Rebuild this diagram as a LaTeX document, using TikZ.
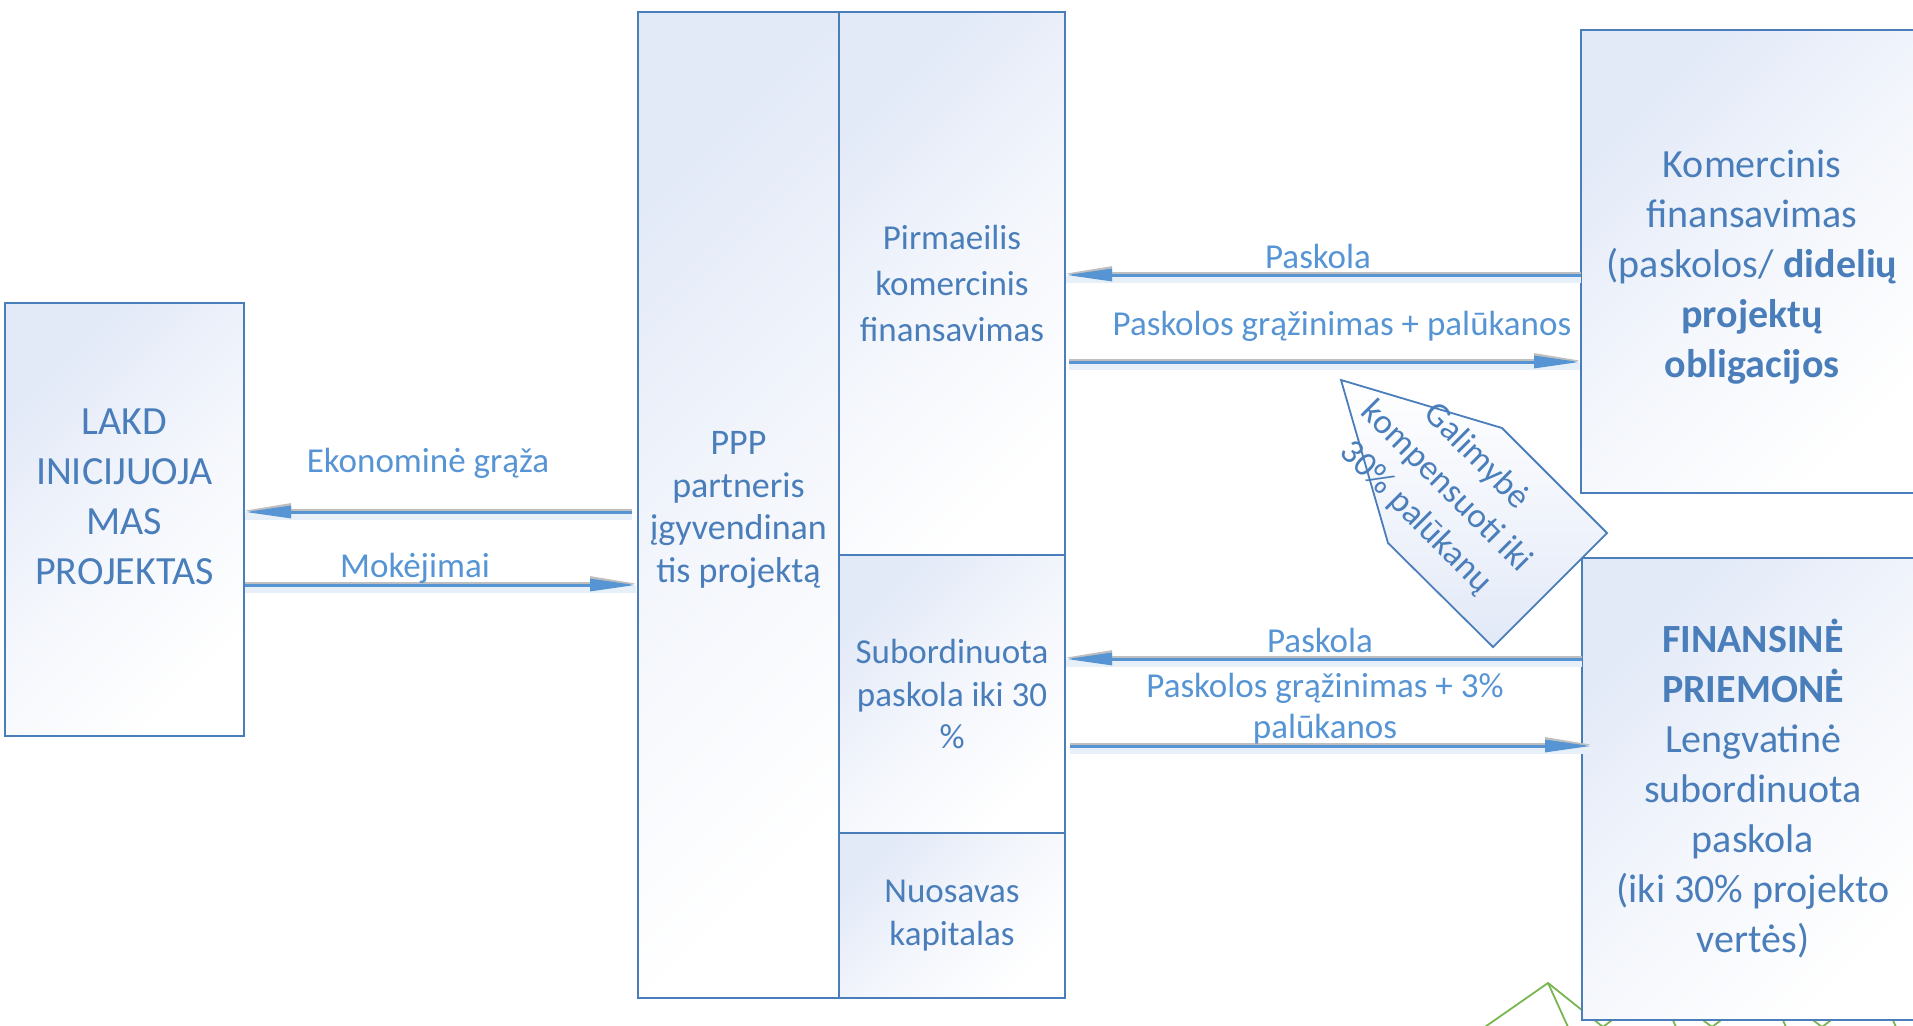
\documentclass[tikz,border=0pt]{standalone}
\usepackage{fontspec}
\setmainfont{Carlito}
\usetikzlibrary{arrows.meta,calc}
\definecolor{boxblue}{RGB}{74,126,187}
\definecolor{txtblue}{RGB}{74,126,187}
\definecolor{lblblue}{RGB}{86,148,212}
\definecolor{arrblue}{RGB}{86,148,212}
\definecolor{fillblue}{RGB}{226,233,247}
\definecolor{leafgreen}{RGB}{122,182,80}
\begin{document}
\begin{tikzpicture}[x=1pt,y=-1pt,
  box/.style={draw=boxblue, line width=2.3pt, inner sep=0pt, outer sep=0pt, anchor=north west,
    align=center, text=txtblue, top color=fillblue, bottom color=white, middle color=fillblue!40!white, shading angle=45},
  boxtext/.style={align=center, text=txtblue, inner sep=0pt},
  flow/.style={line width=3pt, draw=arrblue, -{Triangle[length=46pt,width=12pt]},
    preaction={draw=arrblue!14, line width=7pt, arrows=-, transform canvas={yshift=-4pt}},
    preaction={draw=gray!50, line width=3pt, transform canvas={yshift=1.5pt}, -{Triangle[length=46pt,width=14pt]}}},
  lbl/.style={text=lblblue, font=\fontsize{35}{41}\selectfont, inner sep=0pt, align=center},
  greenline/.style={draw=leafgreen, line width=1.8pt, line join=round}
]
\useasboundingbox (0,0) rectangle (1913,1025);
\clip (0,0) rectangle (1913,1025);

% green background lines (bottom right)
\draw[greenline] (1469,1038) -- (1548,983) -- (1573,1038);
\draw[greenline] (1548,983) -- (1603,1027) -- (1657,985) -- (1712,1027) -- (1767,985) -- (1822,1027) -- (1877,985) -- (1932,1027);
\draw[greenline] (1657,985) -- (1681,1038);
\draw[greenline] (1767,985) -- (1791,1038);
\draw[greenline] (1877,985) -- (1901,1038);

% boxes
\node[box, minimum width=239pt, minimum height=433pt] (lakd) at (5,303) {};
\node[boxtext, font=\fontsize{40}{50}\selectfont] (lakdtxt) at (124.5,497)
  {LAKD\\INICIJUOJA\\MAS\\PROJEKTAS};

\node[box, minimum width=201pt, minimum height=986pt] (ppp) at (638,12) {};
\node[boxtext, font=\fontsize{36}{42.7}\selectfont] (ppptxt) at (738.5,510)
  {PPP\\partneris\\įgyvendinan\\tis projektą};
\node[box, minimum width=226pt, minimum height=543pt, font=\fontsize{35}{46}\selectfont] (pirm) at (839,12)
  {Pirmaeilis\\komercinis\\finansavimas};
\node[box, minimum width=226pt, minimum height=278pt, font=\fontsize{35}{42.5}\selectfont] (sub) at (839,555)
  {Subordinuota\\paskola iki 30\\\%};
\node[box, minimum width=226pt, minimum height=165pt, font=\fontsize{35}{42.5}\selectfont] (nuos) at (839,833)
  {Nuosavas\\kapitalas};

\node[box, minimum width=342pt, minimum height=463pt] (kom) at (1581,30) {};
\node[boxtext, font=\fontsize{40}{50}\selectfont] (komtxt) at (1752,267)
  {Komercinis\\finansavimas\\(paskolos/ \textbf{didelių}\\\textbf{projektų}\\\textbf{obligacijos}};
\node[box, minimum width=342pt, minimum height=462pt, font=\fontsize{40}{50}\selectfont] (fin) at (1582,558)
  {\textbf{FINANSINĖ}\\\textbf{PRIEMONĖ}\\Lengvatinė\\subordinuota\\paskola\\(iki 30\% projekto\\vertės)};

% callout
\draw[draw=boxblue, line width=1.8pt, line join=miter, top color=white, bottom color=fillblue, shading angle=0]
  (1341,380) -- (1502,428) -- (1607,533) -- (1493,647) -- (1388,543) -- cycle;
\node[rotate=-45, boxtext, font=\fontsize{35}{43}\selectfont] (calltxt) at (1446,487)
  {Galimybė\\kompensuoti iki\\30\% palūkanų};

% arrows
\draw[flow] ($(ppp.west)+(-6,7)$) -- ($(lakd.east)+(1,-7.5)$);
\draw[flow] ($(lakd.east)+(1,65.5)$) -- ($(ppp.west)+(-2,80)$);
\draw[flow] ($(kom.west)+(0,13.5)$) -- ($(pirm.east)+(1,-8.5)$);
\draw[flow] ($(pirm.east)+(4,78.5)$) -- ($(kom.west)+(-1,100.5)$);
\draw[flow] ($(fin.west)+(0,-130)$) -- ($(sub.east)+(1,-35)$);
\draw[flow] ($(sub.east)+(5,52)$) -- ($(fin.west)+(9,-43)$);

% labels
\node[lbl, anchor=base] (l1) at (428,472) {Ekonominė grąža};
\node[lbl, anchor=base] (l2) at (415,577) {Mokėjimai};
\node[lbl, anchor=base] (l3) at (1318,268) {Paskola};
\node[lbl, anchor=base] (l4) at (1342,335) {Paskolos grąžinimas + palūkanos};
\node[lbl, anchor=base] (l5) at (1320,652) {Paskola};
\node[lbl] (l6) at (1325,709) {Paskolos grąžinimas + 3\%\\palūkanos};
\end{tikzpicture}
\end{document}
